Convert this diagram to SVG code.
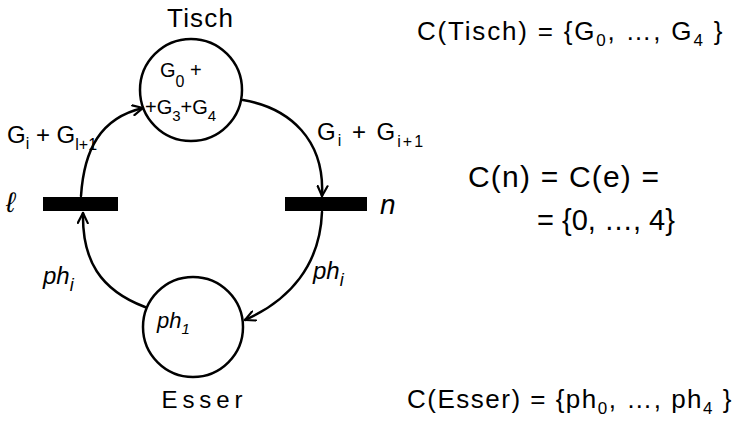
<svg xmlns="http://www.w3.org/2000/svg" width="738" height="428" viewBox="0 0 738 428">
<defs>
<style>
.node{fill:none;stroke:#000;stroke-width:2.5}
.bar{fill:#000}
.edge{fill:none;stroke:#000;stroke-width:2.5;stroke-linecap:round}
.t{font-family:"Liberation Sans",Arial,sans-serif;fill:#000}
.lbl{font-size:24px}
.eq{font-size:26px}
</style>
<marker id="arr" viewBox="0 0 12 12" refX="11" refY="6" markerWidth="12" markerHeight="12" markerUnits="userSpaceOnUse" orient="auto">
<path d="M1,1 L11,6 L1,11" fill="none" stroke="#000" stroke-width="2.2" stroke-linecap="round" stroke-linejoin="round"/>
</marker>
</defs>
<rect width="738" height="428" fill="#fff"/>

<g id="connectors">
<path class="edge" d="M81 196 C84 150 100 118 143 108" marker-end="url(#arr)"/>
<path class="edge" d="M243 100 C290 108 325 140 322 196" marker-end="url(#arr)"/>
<path class="edge" d="M322 212 C320 265 290 300 245 320" marker-end="url(#arr)"/>
<path class="edge" d="M145 307 C100 290 82 260 83 213" marker-end="url(#arr)"/>
</g>

<g id="tisch">
<circle class="node" cx="191" cy="90" r="51"/>
<text class="t" x="200" y="27" font-size="26" text-anchor="middle" textLength="66" lengthAdjust="spacing">Tisch</text>
<text class="t" x="160" y="77" font-size="20">G<tspan dy="10" font-size="16">0</tspan><tspan dy="-10"> +</tspan></text>
<text class="t" x="145" y="114" font-size="20">+G<tspan dy="7" font-size="15">3</tspan><tspan dy="-7">+G</tspan><tspan dy="7" font-size="15">4</tspan></text>
</g>

<g id="place-l">
<rect class="bar" x="43" y="197" width="75" height="14"/>
<text class="t" x="6" y="212" font-size="28" font-family="DejaVu Sans" font-style="italic">ℓ</text>
</g>

<g id="place-n">
<rect class="bar" x="285" y="197" width="82" height="14"/>
<text class="t" x="380" y="214" font-size="28" font-style="italic">n</text>
</g>

<g id="esser">
<circle class="node" cx="193" cy="327" r="50"/>
<text class="t" x="202" y="408" font-size="24" text-anchor="middle" textLength="81" lengthAdjust="spacing">Esser</text>
<text class="t" x="157" y="328" font-size="22" font-style="italic">ph<tspan dy="6" font-size="15">1</tspan></text>
</g>

<g id="labels">
<text class="t lbl" x="7" y="143">G<tspan dy="6" font-size="16">i</tspan><tspan dy="-6"> + G</tspan><tspan dy="7" font-size="16">l+1</tspan></text>
<text class="t lbl" x="317" y="140" letter-spacing="2">G<tspan dy="6" font-size="16">i</tspan><tspan dy="-6"> + G</tspan><tspan dy="7" font-size="16">i+1</tspan></text>
<text class="t lbl" x="43" y="284" font-style="italic">ph<tspan dy="7" font-size="18">i</tspan></text>
<text class="t lbl" x="313" y="279" font-style="italic">ph<tspan dy="7" font-size="18">i</tspan></text>
</g>

<g id="equations">
<text class="t eq" x="417" y="40" letter-spacing="1.8">C(Tisch) = {G<tspan dy="6" font-size="17">0</tspan><tspan dy="-6">, …, G</tspan><tspan dy="6" font-size="17">4</tspan><tspan dy="-6"> }</tspan></text>
<text class="t" x="468" y="187" font-size="30" letter-spacing="1.2">C(n) = C(e) =</text>
<text class="t" x="537" y="230" font-size="29">= {0, …, 4}</text>
<text class="t eq" x="407" y="408" letter-spacing="1.5">C(Esser) = {ph<tspan dy="6" font-size="17">0</tspan><tspan dy="-6">, …, ph</tspan><tspan dy="6" font-size="17">4</tspan><tspan dy="-6"> }</tspan></text>
</g>
</svg>
